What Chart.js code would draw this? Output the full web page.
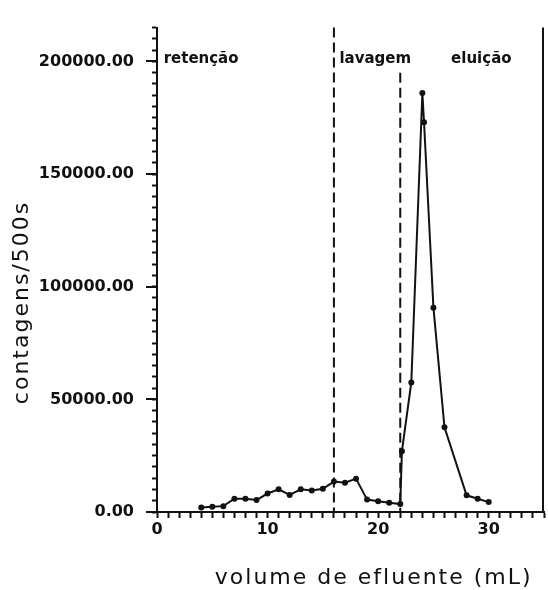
<!DOCTYPE html>
<html>
<head>
<meta charset="utf-8">
<script src="https://cdn.jsdelivr.net/npm/chart.js@4"></script>
<style>
html,body{margin:0;padding:0;background:#fff;}
#wrap{width:548px;height:590px;}
</style>
</head>
<body>
<div id="wrap"><canvas id="c" width="548" height="590"></canvas></div>
<script>
// Data
const volumes = [4,5,6,7,8,9,10,11,12,13,14,15,16,17,18,19,20,21,22,22.15,23,24,24.15,25,26,28,29,30];
const counts  = [2000,2300,2600,5900,5900,5300,8200,10100,7600,10100,9500,10300,13500,13000,14800,5500,4800,4100,3500,27000,57500,186000,173000,90700,37600,7400,5900,4400];
const phaseLabels = ["retenção","lavagem","eluição"];
const phaseLabelX = [0.6, 16.5, 26.6];
const phaseBoundaries = [16, 22];
const boundaryTops = [215000, 195000];
const xTitle = "volume de efluente (mL)";
const yTitle = "contagens/500s";

const points = volumes.map((v,i)=>({x:v,y:counts[i]}));
const FONT = "'DejaVu Sans', sans-serif";

const overlay = {
  id:'overlay',
  afterDatasetsDraw(chart){
    const {ctx, chartArea, scales:{x,y}} = chart;
    ctx.save();
    ctx.strokeStyle = '#111';
    ctx.lineWidth = 2;
    // longer major ticks on the y axis
    y.ticks.forEach(t=>{
      if (Math.round(t.value)%50000===0){
        const py = Math.round(y.getPixelForValue(t.value));
        ctx.beginPath();
        ctx.moveTo(chartArea.left-11, py);
        ctx.lineTo(chartArea.left, py);
        ctx.stroke();
      }
    });
    ctx.setLineDash([10,5]);
    phaseBoundaries.forEach((b,i)=>{
      const px = x.getPixelForValue(b);
      ctx.beginPath();
      ctx.moveTo(px, y.getPixelForValue(boundaryTops[i]));
      ctx.lineTo(px, y.getPixelForValue(0));
      ctx.stroke();
    });
    ctx.setLineDash([]);
    ctx.beginPath();
    ctx.moveTo(chartArea.right-1, chartArea.top);
    ctx.lineTo(chartArea.right-1, chartArea.bottom);
    ctx.stroke();
    ctx.fillStyle = '#111';
    ctx.font = "bold 15px " + FONT;
    ctx.textAlign = 'left';
    ctx.textBaseline = 'middle';
    phaseLabels.forEach((t,i)=>{
      ctx.fillText(t, x.getPixelForValue(phaseLabelX[i]), y.getPixelForValue(201000));
    });
    ctx.font = "22px " + FONT;
    try { ctx.letterSpacing = '2px'; } catch(e) {}
    ctx.textAlign = 'center';
    ctx.textBaseline = 'middle';
    ctx.fillText(xTitle, x.getPixelForValue(19.6), x.top + 66);
    ctx.save();
    ctx.translate(22, y.getPixelForValue(93000));
    ctx.rotate(-Math.PI/2);
    ctx.fillText(yTitle, 0, 0);
    ctx.restore();
    ctx.restore();
  }
};

new Chart(document.getElementById('c'), {
  type:'scatter',
  data:{datasets:[{
    data:points,
    showLine:true,
    borderColor:'#111',
    backgroundColor:'#111',
    borderWidth:2,
    pointRadius:2,
    pointHoverRadius:2,
    tension:0
  }]},
  options:{
    responsive:false,
    animation:false,
    events:[],
    layout:{padding:{left:0,right:0,top:27,bottom:0}},
    plugins:{legend:{display:false},tooltip:{enabled:false}},
    scales:{
      x:{
        type:'linear',
        min:0, max:35,
        afterFit(s){ s.height = 78; },
        border:{display:true,color:'#111',width:2},
        grid:{display:true,drawOnChartArea:false,drawTicks:true,tickLength:6,tickColor:'#111',tickWidth:2},
        ticks:{stepSize:1,autoSkip:false,maxRotation:0,padding:2,color:'#111',
          font:{family:FONT,size:16,weight:'bold'},
          callback:(v)=> (Math.round(v)%10===0 ? String(Math.round(v)) : '')}
      },
      y:{
        type:'linear',
        min:0, max:215000,
        afterFit(s){ s.width = 157; },
        border:{display:true,color:'#111',width:2},
        grid:{display:true,drawOnChartArea:false,drawTicks:true,tickLength:5,tickColor:'#111',tickWidth:2},
        ticks:{stepSize:5000,autoSkip:false,padding:18,color:'#111',
          font:{family:FONT,size:16,weight:'bold'},
          callback:(v)=> (Math.round(v)%50000===0 ? Math.round(v).toFixed(2) : '')}
      }
    }
  },
  plugins:[overlay]
});
</script>
</body>
</html>
